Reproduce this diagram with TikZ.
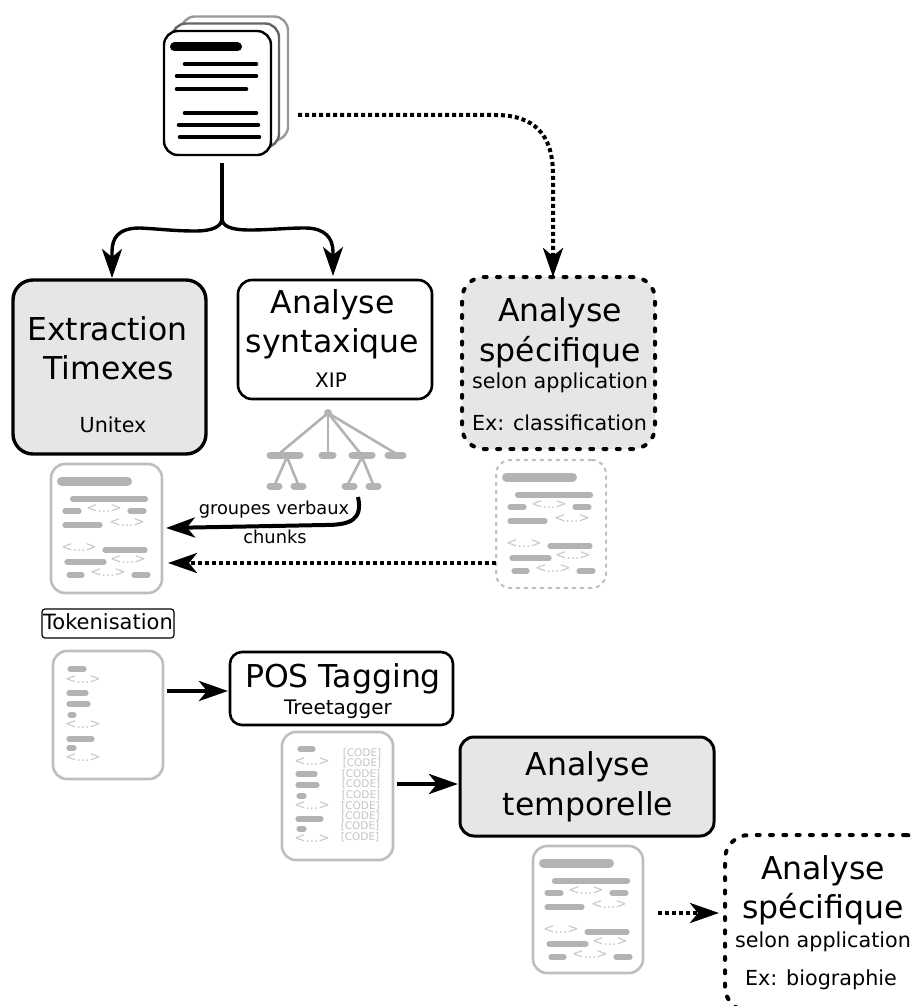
\documentclass[tikz,border=0pt]{standalone}
\usepackage{fontspec}
\setmainfont{DejaVu Sans}
\usetikzlibrary{arrows.meta}
\definecolor{lightfill}{HTML}{E6E6E6}
\definecolor{bargray}{HTML}{B3B3B3}
\definecolor{framegray}{HTML}{BEBEBE}
\definecolor{txtgray}{HTML}{C4C4C4}
\tikzset{
  x=1pt,y=-1pt,
  boxshape/.style={draw=black,rounded corners=#1,outer sep=0pt,inner sep=0pt},
  solidbox/.style={boxshape=14pt,line width=2.6pt,fill=white},
  greybox/.style={boxshape=20pt,line width=3.4pt,fill=lightfill},
  specbox/.style={boxshape=22pt,line width=4pt,line cap=round,dash pattern=on 3pt off 10.3pt},
  docframe/.style={boxshape=14pt,draw=framegray,line width=2.6pt,fill=white},
  lbl/.style={inner sep=0pt,outer sep=0pt,anchor=base,text=black},
  fa/.style={font=\fontsize{31.5pt}{36pt}\selectfont},
  fb/.style={font=\fontsize{20.7pt}{25pt}\selectfont},
  fc/.style={font=\fontsize{17.8pt}{22pt}\selectfont},
  gtxt/.style={inner sep=0pt,outer sep=0pt,text=txtgray,font=\fontsize{13.5pt}{15pt}\selectfont},
  ctxt/.style={inner sep=0pt,outer sep=0pt,text=txtgray,font=\fontsize{10.5pt}{12pt}\selectfont},
  ttl/.style={line width=9pt,line cap=round,draw=bargray},
  bar/.style={line width=5.2pt,line cap=round,draw=bargray},
  treeline/.style={line width=2.6pt,draw=bargray},
  blackttl/.style={line width=9pt,line cap=round,draw=black},
  blackbar/.style={line width=4.6pt,line cap=round,draw=black},
  head/.style={-{Stealth[length=29pt,width=20pt,inset=8pt]}},
  conn/.style={head,line width=3.4pt,draw=black},
  strong/.style={head,line width=4.6pt,draw=black},
  dotconn/.style={head,line width=4pt,draw=black,dash pattern=on 4pt off 3pt},
}
\newcommand{\fulldocbody}[2]{%
  \begin{scope}[shift={(#1,#2)}]
    \draw[ttl] (10.5,17) -- (76.5,17);
    \draw[bar] (21.5,35) -- (94.5,35);
    \draw[bar] (14,47) -- (28,47);
    \node[gtxt] (t#1a) at (53,45) {<...>};
    \draw[bar] (79,47) -- (93,47);
    \draw[bar] (14,61) -- (49,61);
    \node[gtxt] (t#1b) at (76,59) {<...>};
    \node[gtxt] (t#1c) at (28,84) {<...>};
    \draw[bar] (54,86) -- (94,86);
    \draw[bar] (16,98) -- (53,98);
    \node[gtxt] (t#1d) at (77,96) {<...>};
    \draw[bar] (18,111) -- (31,111);
    \node[gtxt] (t#1e) at (57,109) {<...>};
    \draw[bar] (83,111) -- (97,111);
  \end{scope}}
\begin{document}
\begin{tikzpicture}
\useasboundingbox (0,0) rectangle (912,1006);

% top stack
\node[boxshape=14pt,draw=black!40,line width=2.4pt,fill=white,minimum width=107pt,minimum height=124pt] (stackb) at (234.5,78.5) {};
\node[boxshape=14pt,draw=black!60,line width=2.4pt,fill=white,minimum width=107pt,minimum height=124pt] (stackm) at (225.5,85.5) {};
\node[boxshape=14pt,line width=2.4pt,fill=white,minimum width=107pt,minimum height=124pt] (source) at (217.5,93) {};
\draw[blackttl] (174.5,47) -- (237.5,47);
\draw[blackbar] (185,64) -- (256,64);
\draw[blackbar] (177,76) -- (256,76);
\draw[blackbar] (177,89) -- (246,89);
\draw[blackbar] (185,113) -- (256,113);
\draw[blackbar] (179,125) -- (258,125);
\draw[blackbar] (180,137) -- (259,137);

% main boxes
\node[greybox,minimum width=193pt,minimum height=174pt] (timex) at (109.5,367) {};
\node[lbl,fa] (t1) at (107.5,340) {Extraction};
\node[lbl,fa] (t2) at (108.5,379) {Timexes};
\node[lbl,fb] (t3) at (113,432) {Unitex};

\node[solidbox,minimum width=194pt,minimum height=119pt] (syntax) at (335,339.5) {};
\node[lbl,fa] (t4) at (332.5,313) {Analyse};
\node[lbl,fa] (t5) at (332.5,352) {syntaxique};
\node[lbl,font=\fontsize{20pt}{24pt}\selectfont] (t6) at (331,387) {XIP};

\node[specbox,fill=lightfill,minimum width=193pt,minimum height=172pt] (spec) at (558.5,363) {};
\node[lbl,fa] (t7) at (560,321) {Analyse};
\node[lbl,fa] (t8) at (560,361) {spécifique};
\node[lbl,fb] (t9) at (560,388) {selon application};
\node[lbl,fb] (t10) at (559.5,430) {Ex: classification};

\node[solidbox,boxshape=3pt,line width=1.2pt,minimum width=132pt,minimum height=29pt] (token) at (108,623.5) {};
\node[lbl,font=\fontsize{21pt}{25pt}\selectfont] (t11) at (108,629) {Tokenisation};

\node[solidbox,boxshape=12pt,minimum width=223pt,minimum height=73pt] (pos) at (341.5,688.5) {};
\node[lbl,fa] (t12) at (343,687) {POS Tagging};
\node[lbl,font=\fontsize{20pt}{24pt}\selectfont] (t13) at (338,714) {Treetagger};

\node[greybox,boxshape=14pt,line width=3pt,minimum width=254pt,minimum height=99pt] (temp) at (587,786.5) {};
\node[lbl,fa] (t14) at (587.5,775) {Analyse};
\node[lbl,fa] (t15) at (588,815) {temporelle};

\node[specbox,boxshape=24pt,fill=white,minimum width=205pt,minimum height=176pt] (spec2) at (827.5,923) {};
\node[lbl,fa] (t16) at (823,879) {Analyse};
\node[lbl,fa] (t17) at (823,918) {spécifique};
\node[lbl,fb] (t18) at (823,947) {selon application};
\node[lbl,fb] (t19) at (821,985) {Ex: biographie};

% document icons
\node[docframe,minimum width=111pt,minimum height=129pt] (docA) at (106.5,528.5) {};
\fulldocbody{51}{464}
\node[docframe,dash pattern=on 4pt off 4pt,line width=2pt,minimum width=110pt,minimum height=128pt] (docB) at (551,524) {};
\fulldocbody{496}{460}
\node[docframe,minimum width=110pt,minimum height=127pt] (docC) at (588,909.5) {};
\fulldocbody{533}{846}

\node[docframe,minimum width=110pt,minimum height=128pt] (docT) at (108,715) {};
\draw[bar] (70,669) -- (84,669);
\node[gtxt] (a1) at (83,680) {<...>};
\draw[bar] (69,693) -- (86,693);
\draw[bar] (69,704) -- (88,704);
\draw[bar] (70,715) -- (74,715);
\node[gtxt] (a2) at (83,725) {<...>};
\draw[bar] (69,739) -- (92,739);
\draw[bar] (69,748) -- (74,748);
\node[gtxt] (a3) at (83,758) {<...>};

\node[docframe,minimum width=111pt,minimum height=128pt] (docP) at (337.5,796) {};
\draw[bar] (300,749) -- (313,749);
\node[gtxt] (b1) at (312,762) {<...>};
\draw[bar] (298,774) -- (315,774);
\draw[bar] (298,785) -- (317,785);
\draw[bar] (299,796) -- (304,796);
\node[gtxt] (b2) at (312,806) {<...>};
\draw[bar] (298,819) -- (321,819);
\draw[bar] (299,829) -- (304,829);
\node[gtxt] (b3) at (312,839) {<...>};
\node[ctxt] (c1) at (362,753) {[CODE]};
\node[ctxt] (c2) at (362,763) {[CODE]};
\node[ctxt] (c3) at (361,774) {[CODE]};
\node[ctxt] (c4) at (361,784) {[CODE]};
\node[ctxt] (c5) at (361,795) {[CODE]};
\node[ctxt] (c6) at (360.5,806) {[CODE]};
\node[ctxt] (c7) at (360.5,816) {[CODE]};
\node[ctxt] (c8) at (360,826) {[CODE]};
\node[ctxt] (c9) at (360,837) {[CODE]};

% tree
\fill[bargray] (328,413) circle (4pt);
\coordinate (root) at (328,413);
\draw[treeline] (root) -- (280,453);
\draw[treeline] (root) -- (328,453);
\draw[treeline] (root) -- (360,453);
\draw[treeline] (root) -- (395,453);
\draw[treeline] (287,457) -- (275,484);
\draw[treeline] (287,457) -- (298,484);
\draw[treeline] (362,457) -- (348,484);
\draw[treeline] (362,457) -- (373,484);
\draw[line width=7pt,line cap=round,draw=bargray] (270,455) -- (300,455);
\draw[line width=7pt,line cap=round,draw=bargray] (322,455) -- (333,455);
\draw[line width=7pt,line cap=round,draw=bargray] (352,455) -- (372,455);
\draw[line width=7pt,line cap=round,draw=bargray] (388,455) -- (403,455);
\draw[line width=7pt,line cap=round,draw=bargray] (270,486) -- (279,486);
\draw[line width=7pt,line cap=round,draw=bargray] (294,486) -- (303,486);
\draw[line width=7pt,line cap=round,draw=bargray] (345,486) -- (354,486);
\draw[line width=7pt,line cap=round,draw=bargray] (369,486) -- (378,486);

% connectors
\coordinate (fork) at (222,218);
\coordinate (treeend) at (358,497);
\draw[line width=3.4pt] (222,163) -- (fork);
\draw[conn,shorten >=2pt] (fork) .. controls (222,226) and (214,231) .. (195,231) .. controls (175,231) and (160,229) .. (140,228) .. controls (118,228) and (112,238) .. (112,252) -- (timex.north -| 112,280);
\draw[conn,shorten >=4pt] (fork) .. controls (222,226) and (230,230) .. (250,230) .. controls (270,230) and (285,228) .. (305,228) .. controls (325,228) and (333,238) .. (333,252) -- (syntax.north -| 333,280);
\draw[dotconn] (298,115) -- (495,115) .. controls (535,115) and (553,135) .. (553,175) -- (spec.north -| 553,277);
\draw[strong,line width=4pt] (treeend) .. controls (363,520) and (350,525) .. (325,525) -- (166,528);
\node[lbl,fc] (g1) at (274,514) {groupes verbaux};
\node[lbl,fc] (g2) at (275,543) {chunks};
\draw[dotconn] (docB.west |- 493,563) -- (168,563);
\draw[strong,shorten >=2pt] (167,691) -- (pos.west |- 228,691);
\draw[strong,shorten >=2pt] (397,784) -- (temp.west |- 460,784);
\draw[dotconn,shorten >=6pt] (658,913) -- (spec2.west |- 725,913);
\end{tikzpicture}
\end{document}
